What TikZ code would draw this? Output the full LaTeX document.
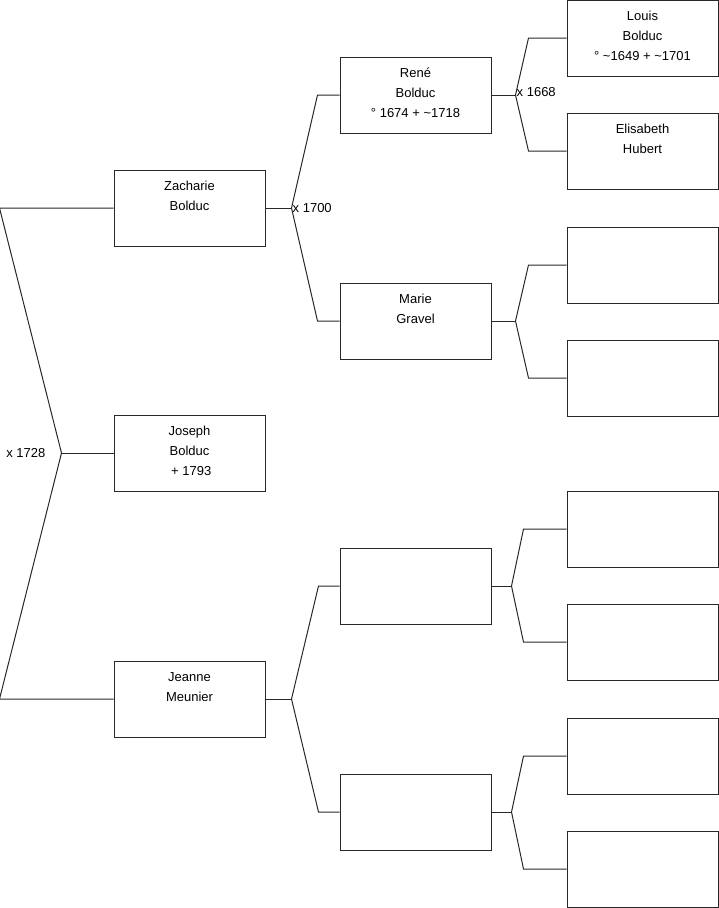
\documentclass[tikz,border=0pt]{standalone}
\usepackage{fontspec}
\setmainfont{Liberation Sans}
\usetikzlibrary{positioning}
\definecolor{cLine}{RGB}{40,40,40}
\tikzset{
    person/.style={rectangle, draw=cLine, line width=1pt, inner sep=0pt, fill=white},
    link/.style={draw=cLine, line width=1pt},
    union/.style={font=\fontsize{13}{15}\selectfont, inner sep=1pt},
}
\newcommand{\persontext}[1]{\parbox[c][76pt][t]{151pt}{\vspace*{6pt}\centering\strut #1}}

\begin{document}
\begin{tikzpicture}[x=1pt, y=-1pt, every node/.style={font=\fontsize{13}{20}\selectfont}]
        \useasboundingbox (0,0) rectangle (719,908);
        % generation 1
        \node[person] (joseph) at (189.5,453) {\persontext{Joseph\\Bolduc\\\ + 1793}};
        % generation 2
        \node[person] (zacharie) at (189.5,208) {\persontext{Zacharie\\Bolduc}};
        \node[person] (jeanne) at (189.5,699) {\persontext{Jeanne\\Meunier}};
        % generation 3
        \node[person] (rene) at (415.5,95) {\persontext{René\\Bolduc\\° 1674 + \textasciitilde1718}};
        \node[person] (marie) at (415.5,321) {\persontext{Marie\\Gravel}};
        \node[person] (gen3c) at (415.5,586) {\persontext{}};
        \node[person] (gen3d) at (415.5,812) {\persontext{}};
        % generation 4
        \node[person] (louis) at (642.5,38) {\persontext{Louis\\Bolduc\\° \textasciitilde1649 + \textasciitilde1701}};
        \node[person] (elisabeth) at (642.5,151) {\persontext{Elisabeth\\Hubert}};
        \node[person] (gen4c) at (642.5,265) {\persontext{}};
        \node[person] (gen4d) at (642.5,378) {\persontext{}};
        \node[person] (gen4e) at (642.5,529) {\persontext{}};
        \node[person] (gen4f) at (642.5,642) {\persontext{}};
        \node[person] (gen4g) at (642.5,756) {\persontext{}};
        \node[person] (gen4h) at (642.5,869) {\persontext{}};

        % fork points
        \coordinate[left=52pt of joseph.west] (u1);
        \coordinate[right=26pt of zacharie.east] (u2);
        \coordinate[right=26pt of jeanne.east] (u3);
        \coordinate[right=24pt of rene.east] (u4);
        \coordinate[right=24pt of marie.east] (u5);
        \coordinate[right=20pt of gen3c.east] (u6);
        \coordinate[right=20pt of gen3d.east] (u7);

        % forks
        \draw[link] (joseph.west) -- (u1);
        \foreach \c in {zacharie, jeanne} \draw[link] (\c.west) -- ++(-114,0) -- (u1);
        \draw[link] (zacharie.east) -- (u2);
        \foreach \c in {rene, marie} \draw[link] (\c.west) -- ++(-22,0) -- (u2);
        \draw[link] (jeanne.east) -- (u3);
        \foreach \c in {gen3c, gen3d} \draw[link] (\c.west) -- ++(-21,0) -- (u3);
        \draw[link] (rene.east) -- (u4);
        \foreach \c in {louis, elisabeth} \draw[link] (\c.west) -- ++(-38,0) -- (u4);
        \draw[link] (marie.east) -- (u5);
        \foreach \c in {gen4c, gen4d} \draw[link] (\c.west) -- ++(-38,0) -- (u5);
        \draw[link] (gen3c.east) -- (u6);
        \foreach \c in {gen4e, gen4f} \draw[link] (\c.west) -- ++(-43,0) -- (u6);
        \draw[link] (gen3d.east) -- (u7);
        \foreach \c in {gen4g, gen4h} \draw[link] (\c.west) -- ++(-43,0) -- (u7);

        % marriages
        \node[union, anchor=west] (m1700) at (u2) {x 1700};
        \node[union, anchor=west, yshift=3pt] (m1668) at (u4) {x 1668};
        \node[union, anchor=east] (m1728) at ([xshift=-15pt]u1) {x 1728};
    \end{tikzpicture}
\end{document}
